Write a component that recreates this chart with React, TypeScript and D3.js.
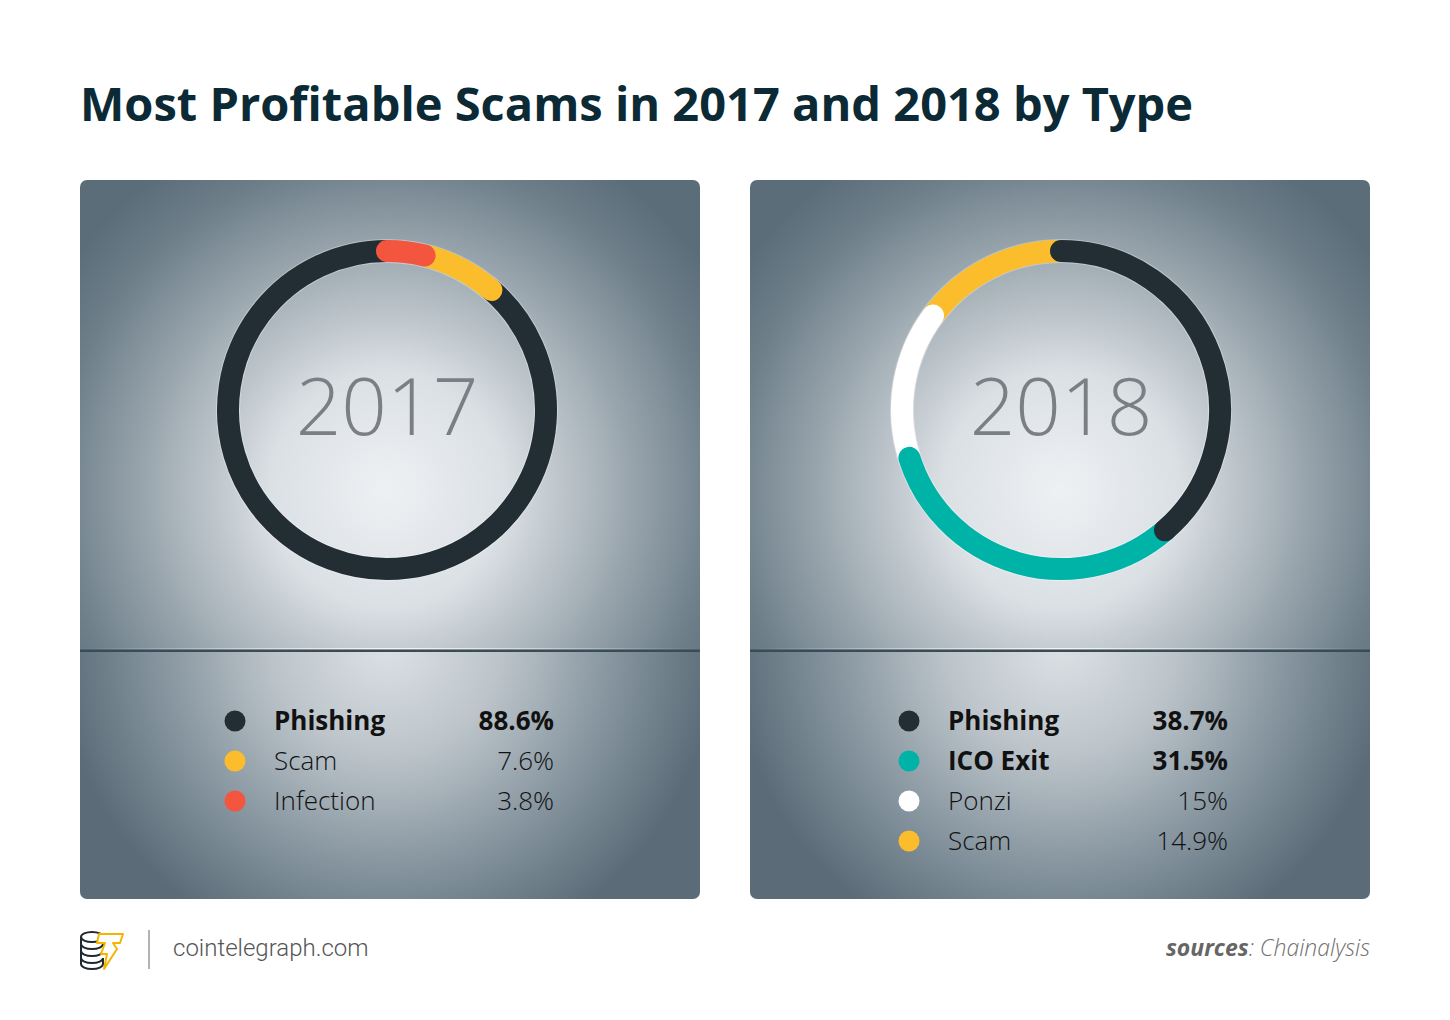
import * as React from "react";
import * as d3 from "d3";

// legend order
const labels2017 = ["Phishing", "Scam", "Infection"];
const values2017 = [88.6, 7.6, 3.8];
const labels2018 = ["Phishing", "ICO Exit", "Ponzi", "Scam"];
const values2018 = [38.7, 31.5, 15, 14.9];

// clockwise order round the ring, starting at 12 o'clock
const ringOrder2017 = ["Infection", "Scam", "Phishing"];
const ringOrder2018 = ["Phishing", "ICO Exit", "Ponzi", "Scam"];

const colors: Record<string, string> = {
    "Phishing": "#232e34",
    "Scam": "#fbbd2b",
    "Infection": "#f4553f",
    "ICO Exit": "#00b3a7",
    "Ponzi": "#ffffff",
};

const W = 1450;
const H = 1020;
const FONT = "'Open Sans', 'Noto Sans', sans-serif";

interface PanelProps {
    x: number;
    shift: number;
    year: string;
    labels: string[];
    values: number[];
    ringOrder: string[];
    id: string;
}

function Panel({ x, shift, year, labels, values, ringOrder, id }: PanelProps) {
    const top = 180, pw = 620, ph = 719, sepY = 650;
    const cx = x + 307 + shift, cy = 410, r = 159, thick = 22;
    const lx = x + shift;

    const byLabel = new Map(labels.map((l, i) => [l, values[i]]));
    const pie = d3.pie<string>().sort(null).value(l => byLabel.get(l) || 0);
    const arcs = pie(ringOrder);

    const arcPath = (a0: number, a1: number) => {
        const p = d3.path();
        p.arc(cx, cy, r, a0 - Math.PI / 2, a1 - Math.PI / 2);
        return p.toString();
    };

    const rowY = d3.scaleLinear().domain([0, 1]).range([730, 770]);

    return (
        <g>
            <defs>
                <clipPath id={`clip-${id}`}>
                    <rect x={x} y={top} width={pw} height={ph} rx={7} />
                </clipPath>
                <radialGradient id={`gTop-${id}`} gradientUnits="userSpaceOnUse" cx={cx} cy={490} r={390}>
                    <stop offset="0" stopColor="#eef1f4" />
                    <stop offset="0.3" stopColor="#dbe0e4" />
                    <stop offset="0.62" stopColor="#9aa6ae" />
                    <stop offset="0.85" stopColor="#6d7e89" />
                    <stop offset="1" stopColor="#5b6d79" />
                </radialGradient>
                <radialGradient id={`gBot-${id}`} gradientUnits="userSpaceOnUse" cx={cx} cy={640} r={330}>
                    <stop offset="0" stopColor="#dde2e6" />
                    <stop offset="0.35" stopColor="#bcc4ca" />
                    <stop offset="0.7" stopColor="#84939d" />
                    <stop offset="1" stopColor="#5b6c78" />
                </radialGradient>
                <linearGradient id={`gSep-${id}`} x1="0" x2="1" y1="0" y2="0">
                    <stop offset="0" stopColor="#ffffff" stopOpacity="0" />
                    <stop offset="0.5" stopColor="#ffffff" stopOpacity="0.8" />
                    <stop offset="1" stopColor="#ffffff" stopOpacity="0" />
                </linearGradient>
            </defs>
            <g clipPath={`url(#clip-${id})`}>
                <rect x={x} y={top} width={pw} height={sepY - top} fill={`url(#gTop-${id})`} />
                <rect x={x} y={sepY} width={pw} height={top + ph - sepY} fill={`url(#gBot-${id})`} />
                <rect x={x} y={sepY - 2} width={pw} height={1.5} fill={`url(#gSep-${id})`} />
                <rect x={x} y={sepY - 0.5} width={pw} height={2.5} fill="#3a4c58" />
            </g>

            {/* faint halo behind the ring */}
            <circle cx={cx} cy={cy} r={r} fill="none" stroke="#ffffff" strokeOpacity={0.35} strokeWidth={thick + 2} />
            {/* drawn last-to-first so each segment's end cap sits over the next */}
            {arcs.slice().reverse().map(a => (
                <path key={a.data} d={arcPath(a.startAngle, a.endAngle)} fill="none"
                    stroke={colors[a.data]} strokeWidth={thick} strokeLinecap="round" />
            ))}

            <text x={cx} y={cy + 25} textAnchor="middle" fontFamily={FONT} fontWeight={300}
                fontSize={80} fill="#7b7f83">{year}</text>

            {labels.map((l, i) => {
                const bold = values[i] > 30;
                const y = rowY(i);
                return (
                    <g key={l}>
                        <circle cx={lx + 155} cy={y - 9} r={10.5} fill={colors[l]} />
                        <text x={lx + 194} y={y} fontFamily={FONT} fontSize={26}
                            fontWeight={bold ? 700 : 300} fill="#111">{l}</text>
                        <text x={lx + 474} y={y} textAnchor="end" fontFamily={FONT} fontSize={26}
                            fontWeight={bold ? 700 : 300} fill="#111">{`${values[i]}%`}</text>
                    </g>
                );
            })}
        </g>
    );
}

function Logo() {
    const coinYs = [944, 951, 958];
    return (
        <g fill="none" strokeLinejoin="round">
            <g stroke="#1f2a30" strokeWidth={2}>
                <ellipse cx={92} cy={937} rx={11} ry={5} fill="#fff" />
                {coinYs.map(y => (
                    <path key={y} d={`M81,${y - 7} L81,${y} A11,5 0 0 0 103,${y}`} />
                ))}
                <path d="M81,958 L81,964 A11,5 0 0 0 103,964 L103,958" />
            </g>
            <path d="M99,934 L123,934 L120,943 L113,943 L117,949 L104,969 L107,954 L101,954 L105,943 L97,943 Z"
                fill="#fff" stroke="#f4b400" strokeWidth={2} />
        </g>
    );
}

export default function App() {
    return (
        <svg width={W} height={H} style={{ display: "block", margin: -8 }} viewBox={`0 0 ${W} ${H}`}>
            <rect width={W} height={H} fill="#ffffff" />
            <text x={80} y={121} fontFamily={FONT} fontWeight={700} fontSize={47} fill="#0b2a35">
                Most Profitable Scams in 2017 and 2018 by Type
            </text>

            <Panel id="p17" x={80} shift={0} year="2017" labels={labels2017} values={values2017} ringOrder={ringOrder2017} />
            <Panel id="p18" x={750} shift={4} year="2018" labels={labels2018} values={values2018} ringOrder={ringOrder2018} />

            <Logo />
            <line x1={149} x2={149} y1={930} y2={969} stroke="#9a9a9a" strokeWidth={1.5} />
            <text x={173} y={956} fontFamily="Roboto, sans-serif" fontWeight={300} fontSize={24} fill="#555">
                cointelegraph.com
            </text>
            <text x={1370} y={956} textAnchor="end" fontFamily={FONT} fontSize={23} fontStyle="italic" fill="#707070">
                <tspan fontWeight={700} fill="#666">sources</tspan>
                <tspan fontWeight={300}>: Chainalysis</tspan>
            </text>
        </svg>
    );
}
